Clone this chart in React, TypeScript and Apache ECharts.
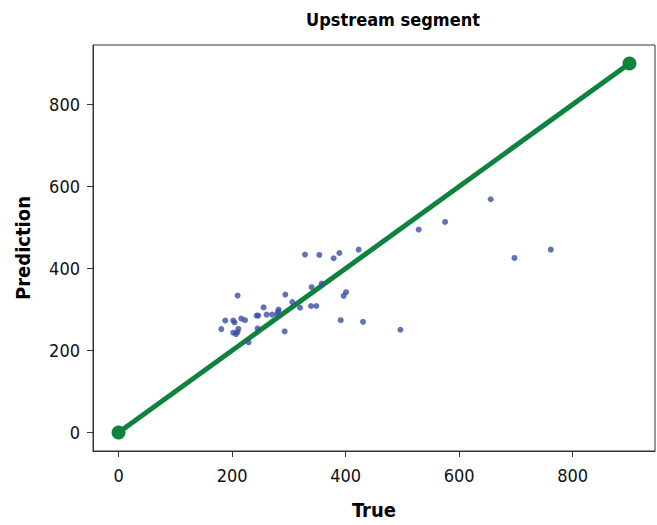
import React, { useEffect, useRef } from "react";
import * as echarts from "echarts";

const trueValues = [
  328.5, 353.7, 378.9, 389.0, 423.0, 209.7, 340.1, 357.8, 396.5, 400.8,
  293.8, 306.1, 319.7, 339.1, 348.4, 255.5, 282.0, 280.9, 270.4, 260.8,
  246.2, 243.2, 216.2, 222.8, 202.1, 204.4, 188.0, 181.0, 211.0, 209.7,
  202.1, 206.9, 245.0, 292.6, 229.1, 391.3, 430.7, 496.5, 528.7, 575.2,
  655.6, 697.4, 761.4, 279.2,
];
const predValues = [
  434.0, 433.0, 425.0, 437.8, 446.0, 334.1, 354.4, 363.1, 333.4, 342.3,
  336.5, 318.2, 304.5, 308.6, 308.6, 305.2, 299.7, 294.8, 287.6, 287.6,
  285.2, 285.2, 277.9, 273.9, 273.1, 268.3, 273.1, 252.2, 253.1, 244.9,
  243.5, 240.1, 253.9, 246.6, 220.1, 273.9, 270.0, 250.7, 494.9, 513.5,
  568.9, 425.7, 446.0, 288.3,
];
const idealX = [0, 900];
const idealY = [0, 900];

const titleText = "Upstream segment";
const xName = "True";
const yName = "Prediction";

const FONT = "'Liberation Sans Narrow', 'DejaVu Sans Condensed', sans-serif";

export default function App() {
  const ref = useRef<HTMLDivElement>(null);
  useEffect(() => {
    if (!ref.current) return;
    const chart = echarts.init(ref.current, null, { renderer: "svg" });
    const axisCommon = {
      type: "value" as const,
      min: -45,
      max: 945,
      splitNumber: 5,
      nameLocation: "middle" as const,
      nameTextStyle: { fontFamily: FONT, fontWeight: "bold", fontSize: 20, color: "#000" },
      axisLine: { show: true, onZero: false, lineStyle: { color: "#333", width: 1 } },
      axisTick: { show: true, inside: false, length: 6, lineStyle: { color: "#333" } },
      splitLine: { show: false },
      axisLabel: {
        fontFamily: FONT,
        fontSize: 18,
        color: "#111",
        showMinLabel: false,
        showMaxLabel: false,
      },
    };
    chart.setOption({
      animation: false,
      backgroundColor: "#fff",
      title: {
        text: titleText,
        left: 388,
        textAlign: "center",
        top: 5,
        textStyle: { fontFamily: FONT, fontWeight: "bold", fontSize: 18, color: "#000" },
      },
      grid: {
        left: 93,
        top: 45,
        width: 562,
        height: 411,
        show: true,
        borderColor: "#333",
        borderWidth: 1,
        containLabel: false,
      },
      xAxis: {
        ...axisCommon,
        name: xName,
        nameGap: 49,
        axisLabel: { ...axisCommon.axisLabel, margin: 15 },
      },
      yAxis: {
        ...axisCommon,
        name: yName,
        nameGap: 60,
        axisLabel: { ...axisCommon.axisLabel, margin: 13 },
      },
      series: [
        {
          type: "line",
          data: idealX.map((x, i) => [x, idealY[i]]),
          symbol: "circle",
          symbolSize: 14,
          showSymbol: true,
          lineStyle: { color: "#0f833d", width: 5 },
          itemStyle: { color: "#0f833d" },
          z: 2,
        },
        {
          type: "scatter",
          data: trueValues.map((x, i) => [x, predValues[i]]),
          symbolSize: 6,
          itemStyle: { color: "#3a4fa3" },
          z: 3,
        },
      ],
    });
    return () => chart.dispose();
  }, []);
  return (
    <div
      ref={ref}
      style={{ position: "fixed", left: 0, top: 0, width: 657, height: 525 }}
    />
  );
}
